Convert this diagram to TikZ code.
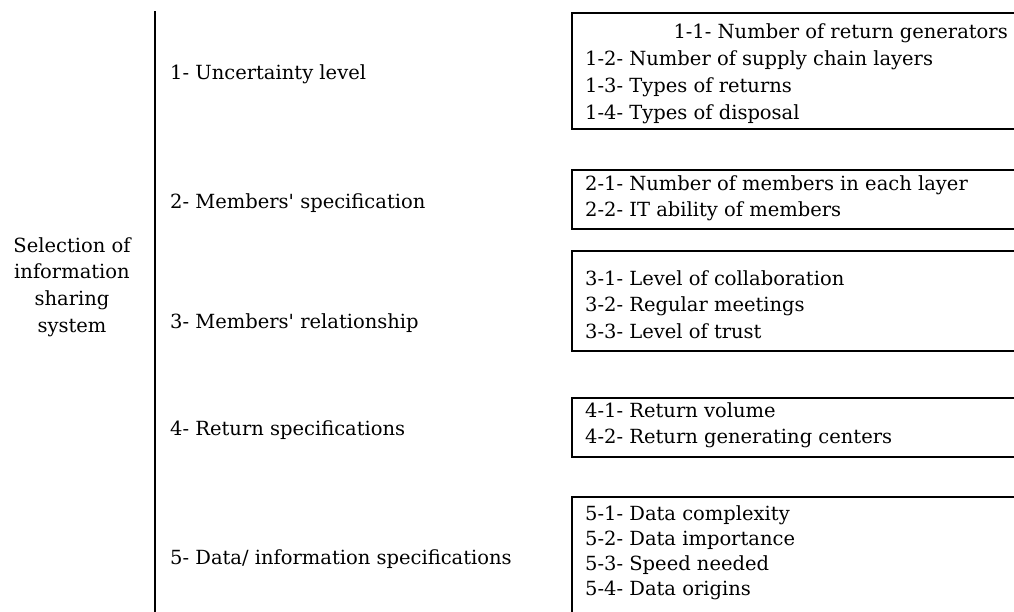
\documentclass[tikz,border=0pt]{standalone}
\usepackage{fontspec}
\setmainfont{DejaVu Serif}
\begin{document}
\begin{tikzpicture}[x=1pt,y=-1pt,
  every node/.style={font=\fontsize{19.5pt}{26.7pt}\selectfont, inner sep=0pt, text=black},
  frame/.style={draw=black, line width=1.6pt, rectangle, minimum width=470pt, anchor=north west},
  item/.style={anchor=base west},
  cat/.style={anchor=base west}]
\useasboundingbox (0,0) rectangle (1014,611);
\clip (0,0) rectangle (1014,611);
% vertical divider
\coordinate (vt) at (155,11);
\coordinate (vb) at (155,615);
\draw[line width=1.8pt] (vt) -- (vb);
% root label
\node[align=center, anchor=center] (root) at (72,287)
  {Selection of\\information\\sharing\\system};
% categories
\node[cat] (c1) at (170,79) {1- Uncertainty level};
\node[cat] (c2) at (170,208) {2- Members\textquotesingle{} specification};
\node[cat] (c3) at (170,328) {3- Members\textquotesingle{} relationship};
\node[cat] (c4) at (170,435) {4- Return specifications};
\node[cat] (c5) at (170,564) {5- Data/ information specifications};
% boxes
\node[frame, minimum height=116pt] (b1) at (571,12) {};
\node[frame, minimum height=59pt] (b2) at (571,169) {};
\node[frame, minimum height=100pt] (b3) at (571,250) {};
\node[frame, minimum height=59pt] (b4) at (571,397) {};
\node[frame, minimum height=140pt] (b5) at (571,496) {};
% box 1 items
\node[anchor=base east] (i11) at (1008,38) {1-1- Number of return generators};
\node[item] (i12) at (585,65) {1-2- Number of supply chain layers};
\node[item] (i13) at (585,92) {1-3- Types of returns};
\node[item] (i14) at (585,119) {1-4- Types of disposal};
% box 2 items
\node[item] (i21) at (585,190) {2-1- Number of members in each layer};
\node[item] (i22) at (585,216) {2-2- IT ability of members};
% box 3 items
\node[item] (i31) at (585,285) {3-1- Level of collaboration};
\node[item] (i32) at (585,311) {3-2- Regular meetings};
\node[item] (i33) at (585,338) {3-3- Level of trust};
% box 4 items
\node[item] (i41) at (585,417) {4-1- Return volume};
\node[item] (i42) at (585,443) {4-2- Return generating centers};
% box 5 items
\node[item] (i51) at (585,520) {5-1- Data complexity};
\node[item] (i52) at (585,545) {5-2- Data importance};
\node[item] (i53) at (585,570) {5-3- Speed needed};
\node[item] (i54) at (585,595) {5-4- Data origins};
\end{tikzpicture}
\end{document}
